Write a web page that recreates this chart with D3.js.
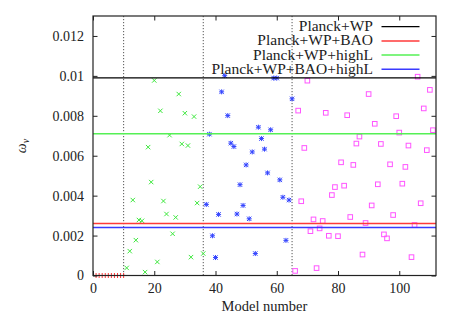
<!DOCTYPE html>
<html>
<head>
<meta charset="utf-8">
<script src="https://cdn.jsdelivr.net/npm/d3@7"></script>
<style>
body { margin: 0; background: #fff; }
text { font-family: "Liberation Serif", "Times New Roman", serif; fill: #222; }
</style>
</head>
<body>
<svg width="457" height="320"></svg>
<script>
// model values
var redModels = [1, 2, 3, 4, 5, 6, 7, 8, 9, 10];
var redValues = [0, 0, 0, 0, 0, 0, 0, 0, 0, 0];

var greenModels = [11, 12, 13, 14, 15, 16, 17, 18, 19, 20, 21, 22, 23, 24, 25, 26, 27, 28, 29, 30, 31, 32, 33, 34, 35, 36];
var greenValues = [0.00038, 0.00122, 0.00378, 0.00177, 0.00278, 0.00274, 0.00017, 0.00643, 0.00468, 0.00977,
    0.00068, 0.00825, 0.00373, 0.00308, 0.00703, 0.00209, 0.00291, 0.00909, 0.00659, 0.00813,
    0.00651, 0.00092, 0.00796, 0.00363, 0.00445, 0.00110];

var blueModels = [37, 38, 39, 40, 41, 42, 43, 44, 45, 46, 47, 48, 49, 50, 51, 52, 53, 54, 55, 56, 57, 58, 59, 60, 61, 62, 63, 64, 65];
var blueValues = [0.00356, 0.00708, 0.00199, 0.00090, 0.00306, 0.00920, 0.01001, 0.00801, 0.00663, 0.00646,
    0.00308, 0.00455, 0.00351, 0.00554, 0.00284, 0.00619, 0.00110, 0.00743, 0.00686, 0.00633,
    0.00514, 0.00730, 0.00989, 0.00989, 0.00479, 0.00392, 0.00176, 0.00378, 0.00885];

var magentaModels = d3.range(66, 112);
var magentaValues = [0.00023, 0.00826, 0.00372, 0.00639, 0.00976, 0.00222, 0.00281, 0.00037, 0.00236, 0.00273,
    0.00815, 0.00199, 0.00403, 0.00443, 0.00197, 0.00567, 0.00450, 0.00803, 0.00293, 0.00554,
    0.00661, 0.00696, 0.00105, 0.00263, 0.00909, 0.00351, 0.00760, 0.00457, 0.00659, 0.00206,
    0.00186, 0.00557, 0.00303, 0.00798, 0.00716, 0.00460, 0.00544, 0.00651, 0.00092, 0.00253,
    0.00996, 0.00362, 0.00837, 0.00628, 0.00930, 0.00728];

var legendLabels = ["Planck+WP", "Planck+WP+BAO", "Planck+WP+highL", "Planck+WP+BAO+highL"];
var legendValues = [0.0099, 0.00261, 0.00710, 0.00241];
var legendColors = ["#000000", "#ff3a3a", "#55f055", "#3a3aff"];

var dividers = [10, 36, 65];
var xTicks = [0, 20, 40, 60, 80, 100];
var yTicks = [0, 0.002, 0.004, 0.006, 0.008, 0.01, 0.012];

var svg = d3.select('svg');
var plotLeft = 93, plotRight = 436, plotTop = 16, plotBottom = 275.5;

var x = d3.scaleLinear().domain([0, 112]).range([plotLeft, plotRight]);
var y = d3.scaleLinear().domain([0, 0.013]).range([plotBottom, plotTop]);

function pairs(ms, vs) {
    return ms.map(function (m, i) { return [m, vs[i]]; });
}

// dotted dividers
svg.selectAll(".div").data(dividers).enter().append("line").attr("class", "div")
    .attr("x1", function (d) { return x(d); })
    .attr("x2", function (d) { return x(d); })
    .attr("y1", plotTop).attr("y2", plotBottom)
    .attr("stroke", "#555").attr("stroke-width", 1)
    .attr("stroke-dasharray", "1.2,1.8");

// points
svg.append("g").selectAll("path").data(pairs(redModels, redValues)).enter().append("path")
    .attr("transform", function (d) { return "translate(" + x(d[0]) + "," + y(d[1]) + ")"; })
    .attr("d", "M-2.5,0H2.5M0,-2.5V2.5")
    .attr("stroke", "#ff3a3a").attr("stroke-width", 1).attr("fill", "none");

svg.append("g").selectAll("path").data(pairs(greenModels, greenValues)).enter().append("path")
    .attr("transform", function (d) { return "translate(" + x(d[0]) + "," + y(d[1]) + ")"; })
    .attr("d", "M-2.2,-2.2L2.2,2.2M-2.2,2.2L2.2,-2.2")
    .attr("stroke", "#3ee83e").attr("stroke-width", 1).attr("fill", "none");

svg.append("g").selectAll("path").data(pairs(blueModels, blueValues)).enter().append("path")
    .attr("transform", function (d) { return "translate(" + x(d[0]) + "," + y(d[1]) + ")"; })
    .attr("d", "M-2.5,0H2.5M0,-2.5V2.5M-2.2,-2.2L2.2,2.2M-2.2,2.2L2.2,-2.2")
    .attr("stroke", "#3344ff").attr("stroke-width", 1).attr("fill", "none");

svg.append("g").selectAll("rect").data(pairs(magentaModels, magentaValues)).enter().append("rect")
    .attr("x", function (d) { return x(d[0]) - 2.3; })
    .attr("y", function (d) { return y(d[1]) - 2.3; })
    .attr("width", 4.6).attr("height", 4.6)
    .attr("stroke", "#ff55ff").attr("stroke-width", 1).attr("fill", "none");

// horizontal result lines
svg.selectAll(".hl").data(legendValues).enter().append("line").attr("class", "hl")
    .attr("x1", plotLeft).attr("x2", plotRight)
    .attr("y1", function (d) { return y(d); })
    .attr("y2", function (d) { return y(d); })
    .attr("stroke", function (d, i) { return legendColors[i]; })
    .attr("stroke-width", function (d, i) { return i == 0 ? 1.2 : 1.5; });

// axes with mirrored inward ticks
var fmt = function (d) { return d == 0 ? "0" : String(+d.toFixed(3)); };
var gl = svg.append("g").attr("transform", "translate(" + plotLeft + ",0)")
    .call(d3.axisLeft(y).tickValues(yTicks).tickSize(-4.5).tickPadding(9).tickFormat(fmt));
var gr = svg.append("g").attr("transform", "translate(" + plotRight + ",0)")
    .call(d3.axisRight(y).tickValues(yTicks).tickSize(-4.5).tickFormat(""));
var gb = svg.append("g").attr("transform", "translate(0," + plotBottom + ")")
    .call(d3.axisBottom(x).tickValues(xTicks).tickSize(-4.5).tickPadding(8));
var gt = svg.append("g").attr("transform", "translate(0," + plotTop + ")")
    .call(d3.axisTop(x).tickValues(xTicks).tickSize(-4.5).tickFormat(""));

[gl, gr, gb, gt].forEach(function (g) {
    g.select(".domain").remove();
    g.selectAll("line").attr("stroke", "#222");
    g.selectAll("text").attr("font-family", "Liberation Serif").attr("font-size", 14).attr("fill", "#222");
});

svg.append("rect").attr("x", plotLeft).attr("y", plotTop)
    .attr("width", plotRight - plotLeft).attr("height", plotBottom - plotTop)
    .attr("fill", "none").attr("stroke", "#222").attr("stroke-width", 1.2);

// axis titles
svg.append("text").attr("x", (plotLeft + plotRight) / 2).attr("y", 311)
    .attr("text-anchor", "middle").attr("font-size", 14.5).text("Model number");

var yl = svg.append("text").attr("transform", "translate(26,146) rotate(-90)")
    .attr("text-anchor", "middle").attr("font-size", 14);
yl.append("tspan").attr("font-style", "italic").text("ω");
yl.append("tspan").attr("font-style", "italic").attr("font-size", 10).attr("dy", 3).text("ν");

// legend
var leg = svg.selectAll(".leg").data(legendLabels).enter().append("g").attr("class", "leg")
    .attr("transform", function (d, i) { return "translate(0," + (26.7 + i * 14.2) + ")"; });
leg.append("text").attr("x", 373).attr("y", 4.5).attr("text-anchor", "end")
    .attr("font-size", 15.5).text(function (d) { return d; });
leg.append("line").attr("x1", 381.5).attr("x2", 419.5).attr("y1", 0).attr("y2", 0)
    .attr("stroke", function (d, i) { return legendColors[i]; })
    .attr("stroke-width", function (d, i) { return i == 0 ? 1.2 : 1.5; });
</script>
</body>
</html>
